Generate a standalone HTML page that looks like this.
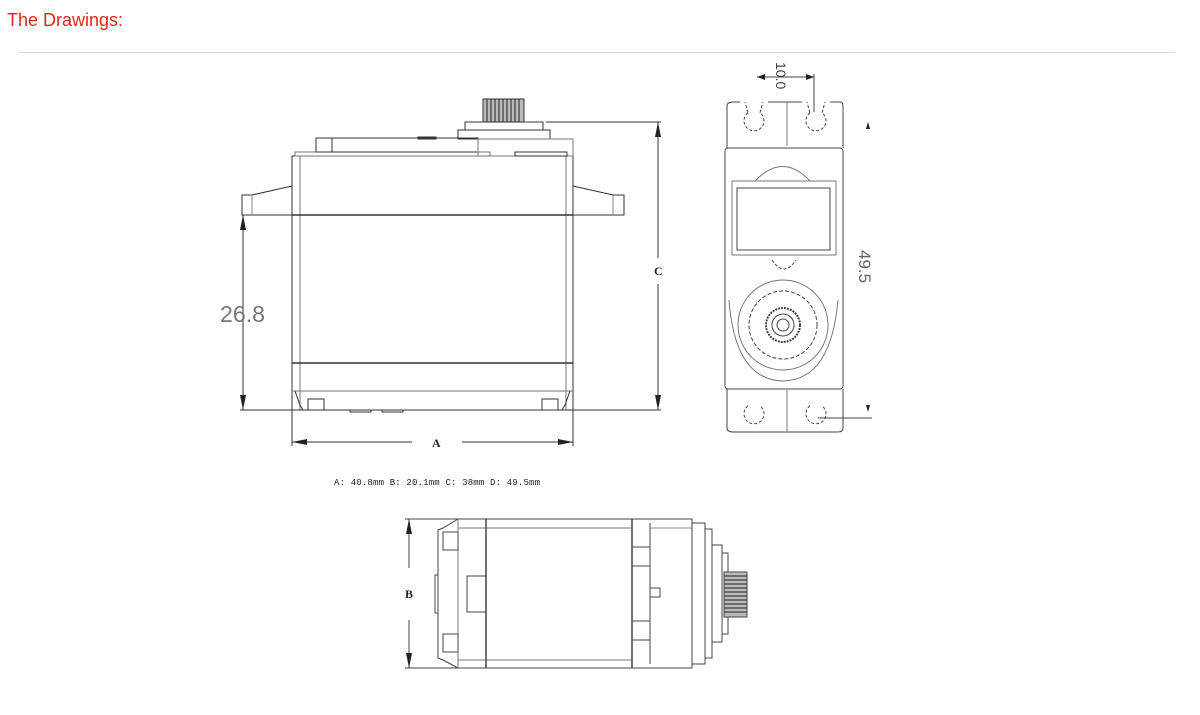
<!DOCTYPE html>
<html><head><meta charset="utf-8"><style>
html,body{margin:0;padding:0;background:#fff;width:1200px;height:715px;overflow:hidden}
.h{position:absolute;left:7px;top:10px;font:18px "Liberation Sans",sans-serif;color:#e3261b}
.hr{position:absolute;left:18px;top:52px;width:1157px;height:1px;background:#dcdcdc}
svg{position:absolute;left:0;top:0}
</style></head><body>
<div class="h">The Drawings:</div>
<div class="hr"></div>
<svg width="1200" height="715" viewBox="0 0 1200 715">
<g fill="none" stroke="#333" stroke-width="1">
<!-- front view -->
<rect x="292" y="156" width="281" height="254"/>
<line x1="300" y1="156" x2="300" y2="410" stroke="#777"/>
<line x1="566" y1="156" x2="566" y2="410" stroke="#777"/>
<line x1="292" y1="215" x2="573" y2="215" stroke-width="1.6"/>
<line x1="292" y1="363" x2="573" y2="363" stroke-width="1.4"/>
<line x1="292" y1="391" x2="573" y2="391" stroke="#777"/>
<path d="M292 186 L252 195 L242 195 L242 215 L292 215" />
<line x1="252" y1="195" x2="252" y2="215" stroke="#888"/>
<path d="M573 186 L613 195 L624 195 L624 215 L573 215" />
<line x1="613" y1="195" x2="613" y2="215" stroke="#888"/>
<path d="M295 391 L300 405 L303 410 M570 391 L565 405 L562 410"/>
<rect x="308" y="399" width="16" height="11"/>
<rect x="542" y="399" width="16" height="11"/>
<rect x="350" y="410" width="21" height="2"/>
<rect x="382" y="410" width="21" height="2"/>
<rect x="295" y="152" width="195" height="4" stroke="#777"/>
<rect x="316" y="138" width="16" height="14"/>
<rect x="332" y="138" width="146" height="14"/>
<rect x="418" y="137" width="18" height="2"/>
<rect x="458" y="130" width="92" height="9"/>
<rect x="465" y="122" width="78" height="8"/>
<rect x="478" y="139" width="95" height="17" stroke="#777"/>
<rect x="515" y="152" width="52" height="4"/>
<rect x="483" y="99" width="41" height="23" fill="#bbb"/>
<g stroke="#222">
<line x1="487" y1="99" x2="487" y2="122"/><line x1="491" y1="99" x2="491" y2="122"/><line x1="495" y1="99" x2="495" y2="122"/><line x1="499" y1="99" x2="499" y2="122"/><line x1="503" y1="99" x2="503" y2="122"/><line x1="507" y1="99" x2="507" y2="122"/><line x1="511" y1="99" x2="511" y2="122"/><line x1="515" y1="99" x2="515" y2="122"/><line x1="519" y1="99" x2="519" y2="122"/>
</g>
<!-- dims front -->
<line x1="546" y1="122" x2="661" y2="122"/>
<line x1="240" y1="410" x2="661" y2="410"/>
<line x1="658" y1="122" x2="658" y2="258"/>
<line x1="658" y1="284" x2="658" y2="410"/>
<line x1="243" y1="215" x2="243" y2="410"/>
<line x1="292" y1="410" x2="292" y2="446"/>
<line x1="573" y1="410" x2="573" y2="446"/>
<line x1="292" y1="442" x2="412" y2="442"/>
<line x1="462" y1="442" x2="573" y2="442"/>
</g>
<g fill="#222">
<path d="M658 122 l-3 15 h6z M658 410 l-3 -15 h6z"/>
<path d="M243 215 l-3 15 h6z M243 410 l-3 -15 h6z"/>
<path d="M292 442 l15 -3 v6z M573 442 l-15 -3 v6z"/>
</g>
<text x="220" y="322" font-family="Liberation Sans,sans-serif" font-size="23" fill="#777" textLength="45" lengthAdjust="spacingAndGlyphs">26.8</text>
<text x="654" y="275" font-family="Liberation Serif,serif" font-size="12" font-weight="bold" fill="#222">C</text>
<text x="432" y="447" font-family="Liberation Serif,serif" font-size="12" font-weight="bold" fill="#222">A</text>
<text x="334" y="485" font-family="Liberation Mono,monospace" font-size="9" fill="#222" textLength="206">A: 40.8mm B: 20.1mm C: 38mm D: 49.5mm</text>
<!-- side view -->
<g fill="none" stroke="#444" stroke-width="1">
<path d="M733 102 H740 M768 102 H802 M830 102 H840 Q843 102 843 106 V148 M727 148 V106 Q727 102 733 102"/>
<path d="M727 389 V428 Q727 432 733 432 H838 Q843 432 843 428 V389"/>
<rect x="725" y="148" width="118" height="241" rx="3"/>
<line x1="787" y1="102" x2="787" y2="146" stroke="#777"/>
<line x1="787" y1="390" x2="787" y2="432" stroke="#777"/>
<path d="M748 112.8 A10 10 0 1 0 760 112.8 M748 112.8 L745 102 M760 112.8 L763 102" stroke-dasharray="3 2"/>
<path d="M810 112.8 A10 10 0 1 0 822 112.8 M810 112.8 L807 102 M822 112.8 L825 102" stroke-dasharray="3 2"/>
<path d="M748 405.8 A10 10 0 1 0 760 405.8" stroke-dasharray="3 2"/>
<path d="M810 405.8 A10 10 0 1 0 822 405.8" stroke-dasharray="3 2"/>
<path d="M755 181 Q783 152 810 181" stroke="#777"/>
<rect x="732" y="181" width="104" height="74" stroke="#777"/>
<rect x="737" y="188" width="93" height="62"/>
<path d="M772 260 Q784 278 796 260" stroke-dasharray="3 2"/>
<path d="M729 300 Q735 380 783 381 Q831 380 838 300" stroke="#777"/>
<circle cx="783" cy="325" r="45" stroke="#777"/>
<circle cx="783" cy="325" r="34" stroke-dasharray="4 2"/>
<circle cx="783" cy="325" r="17" stroke-width="2" stroke-dasharray="2 1"/>
<circle cx="783" cy="325" r="11"/>
<circle cx="783" cy="325" r="6"/>
<line x1="757" y1="77" x2="814" y2="77"/>
<line x1="814" y1="74" x2="814" y2="112"/>
<line x1="818" y1="418" x2="872" y2="418"/>
</g>
<g fill="#222">
<path d="M757 77 l8 -3 v6z M814 77 l-8 -3 v6z"/>
<path d="M868 122 l-2 7 h4z M868 412 l-2 -7 h4z"/>
</g>
<text transform="translate(776,62) rotate(90)" font-family="Liberation Sans,sans-serif" font-size="14" fill="#444">10.0</text>
<text transform="translate(859,250) rotate(90)" font-family="Liberation Sans,sans-serif" font-size="17" fill="#666">49.5</text>
<!-- bottom view -->
<g fill="none" stroke="#444" stroke-width="1">
<line x1="405" y1="519" x2="460" y2="519"/>
<line x1="405" y1="668" x2="460" y2="668"/>
<line x1="409" y1="519" x2="409" y2="568"/>
<line x1="409" y1="620" x2="409" y2="668"/>
<path d="M458 519 L443 528 L438 530 V658 L443 660 L458 668"/>
<path d="M458 519 H692 V668 H458 Z"/>
<line x1="458" y1="528" x2="632" y2="528" stroke="#777"/>
<line x1="458" y1="660" x2="632" y2="660" stroke="#777"/>
<line x1="486" y1="519" x2="486" y2="668" stroke-width="1.5"/>
<line x1="458" y1="519" x2="458" y2="668" stroke="#777"/>
<rect x="443" y="532" width="15" height="18"/>
<rect x="443" y="634" width="15" height="18"/>
<rect x="435" y="575" width="3" height="38"/>
<rect x="467" y="576" width="19" height="36"/>
<line x1="632" y1="519" x2="632" y2="668" stroke-width="1.5"/>
<line x1="650" y1="523" x2="650" y2="664"/>
<line x1="632" y1="547" x2="650" y2="547"/><line x1="632" y1="566" x2="650" y2="566"/>
<line x1="632" y1="621" x2="650" y2="621"/><line x1="632" y1="640" x2="650" y2="640"/>
<rect x="650" y="588" width="10" height="9"/>
<line x1="650" y1="528" x2="692" y2="528" stroke="#888"/>
<rect x="692" y="523" width="13" height="141"/>
<rect x="705" y="529" width="7" height="129"/>
<rect x="712" y="545" width="10" height="97"/>
<rect x="722" y="553" width="6" height="81"/>
<rect x="724" y="572" width="23" height="45" fill="#bbb"/>
</g>
<g stroke="#222" stroke-width="1">
<line x1="724" y1="576" x2="747" y2="576"/><line x1="724" y1="580" x2="747" y2="580"/><line x1="724" y1="584" x2="747" y2="584"/><line x1="724" y1="588" x2="747" y2="588"/><line x1="724" y1="592" x2="747" y2="592"/><line x1="724" y1="596" x2="747" y2="596"/><line x1="724" y1="600" x2="747" y2="600"/><line x1="724" y1="604" x2="747" y2="604"/><line x1="724" y1="608" x2="747" y2="608"/><line x1="724" y1="612" x2="747" y2="612"/>
</g>
<path fill="#222" d="M409 519 l-3 15 h6z M409 668 l-3 -15 h6z"/>
<text x="405" y="598" font-family="Liberation Serif,serif" font-size="12" font-weight="bold" fill="#222">B</text>
</svg>
</body></html>
